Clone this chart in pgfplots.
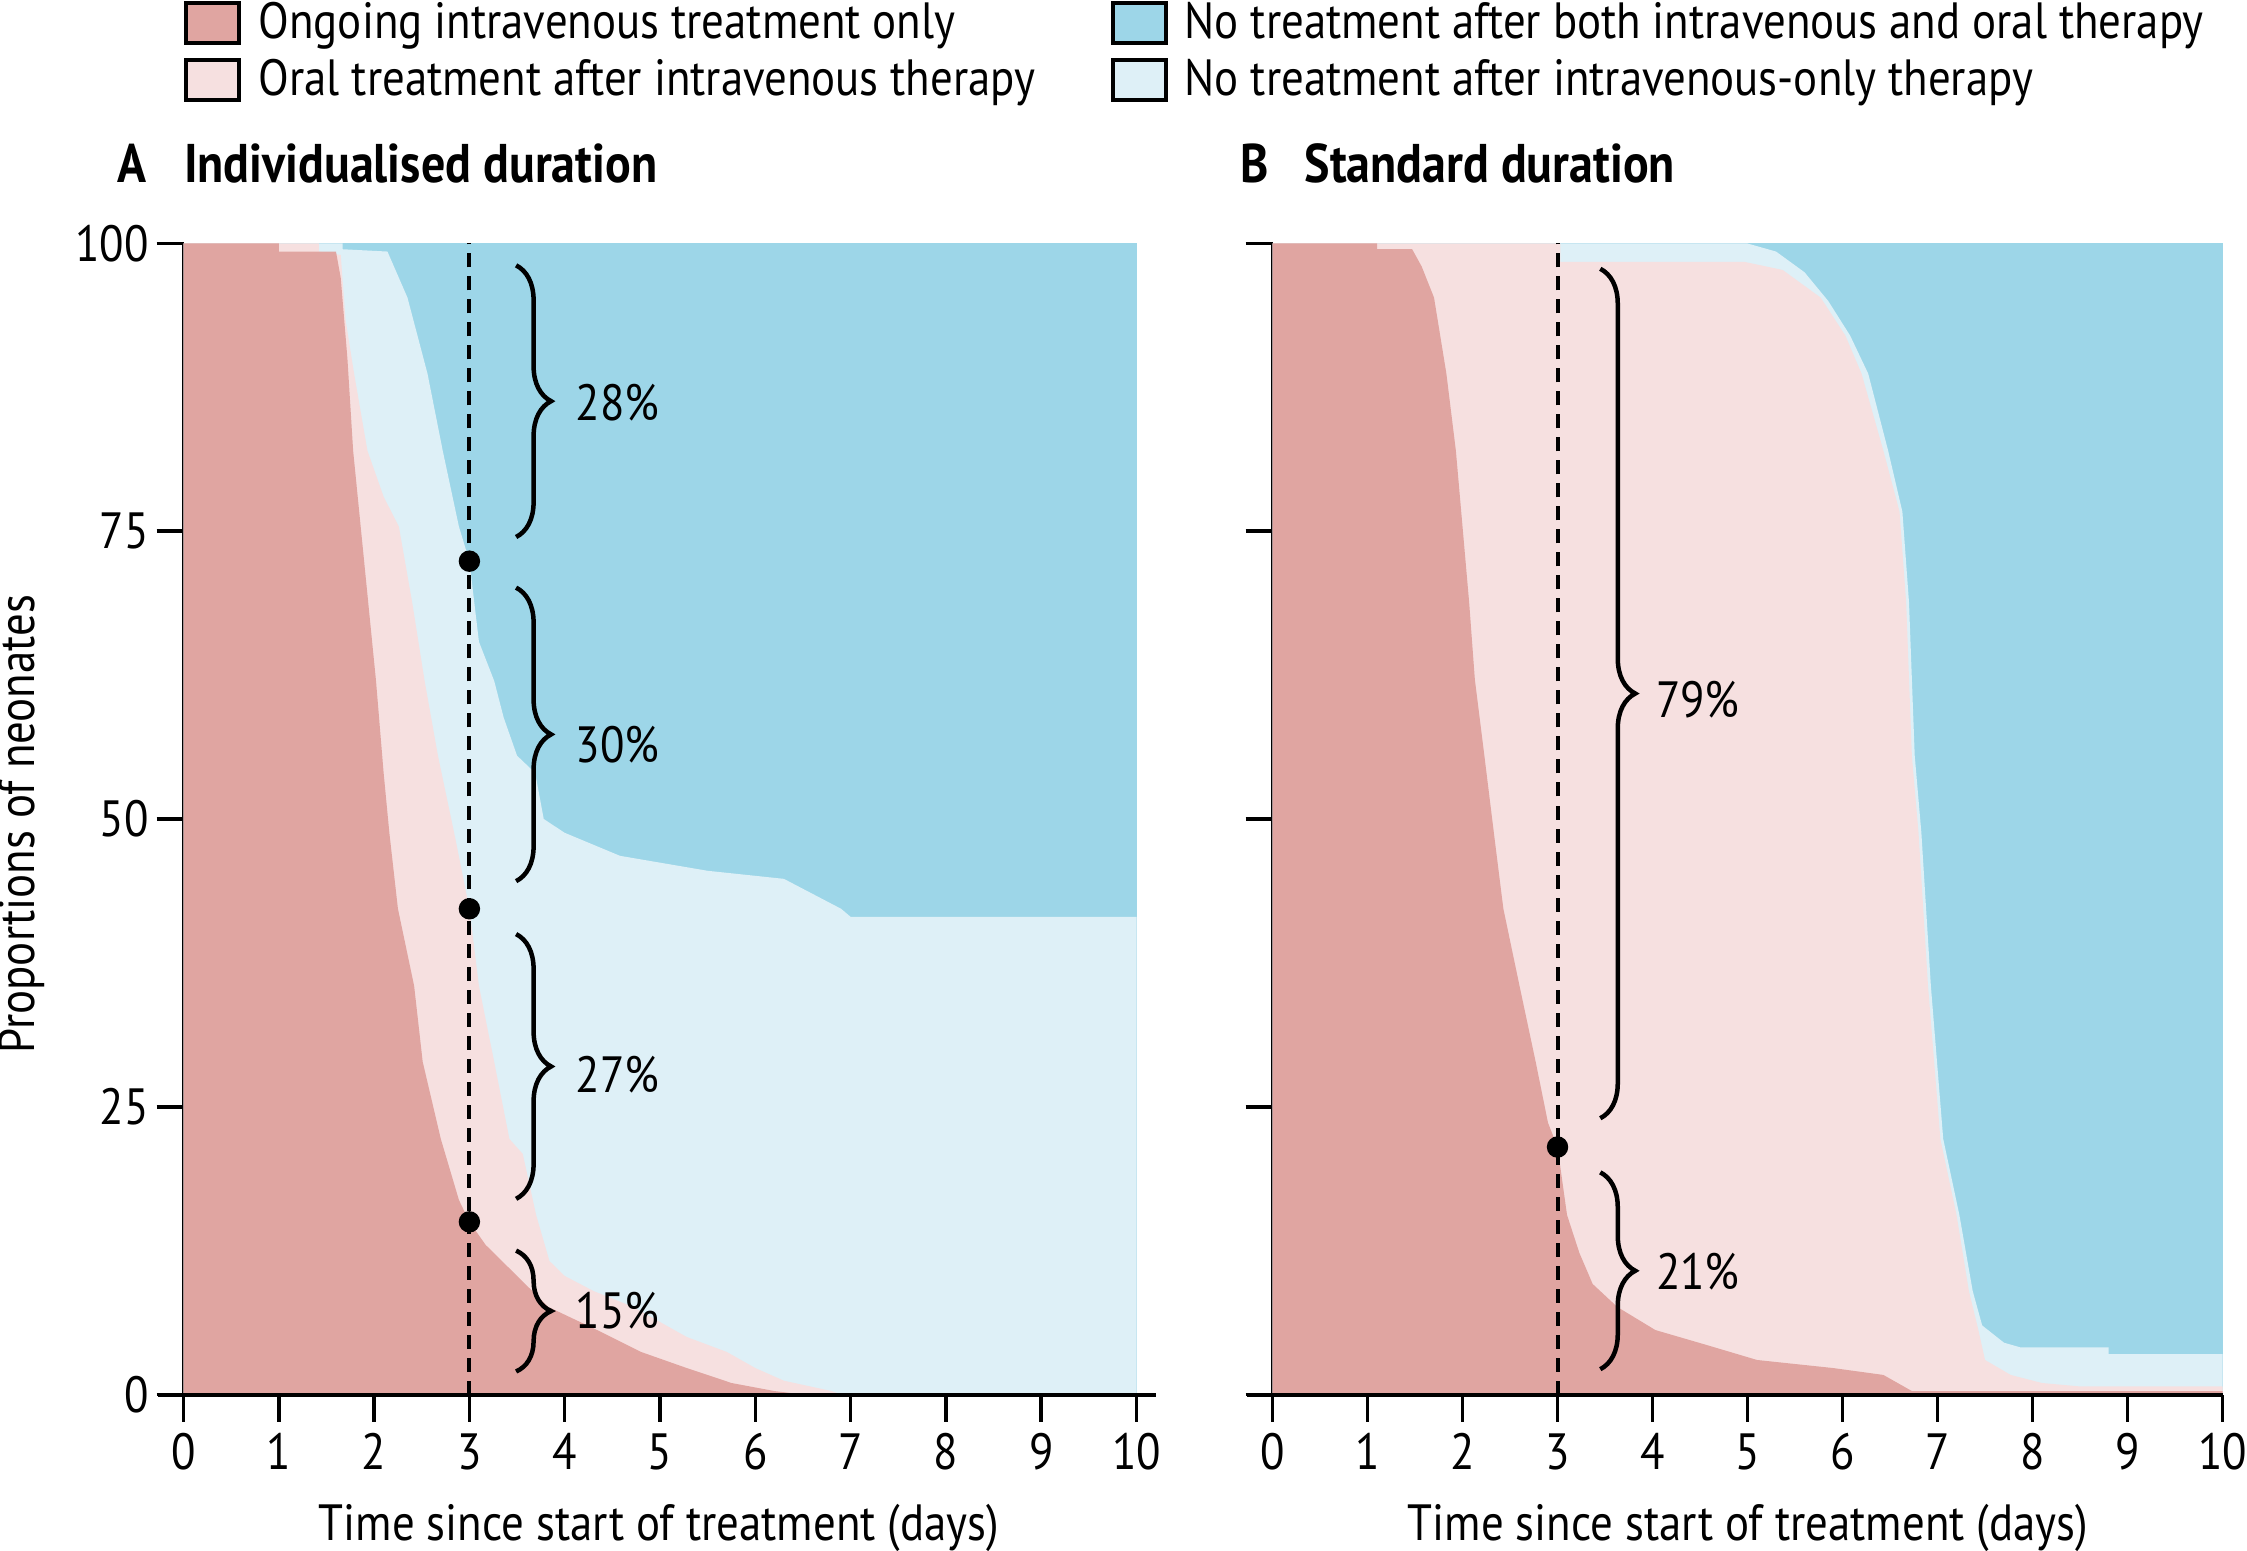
\documentclass[border=0pt]{standalone}
\usepackage{fontspec}
\setmainfont[FakeStretch=0.88]{PT Sans}
\usepackage{pgfplots}
\pgfplotsset{compat=1.18}
\usetikzlibrary{decorations.pathreplacing}
\definecolor{cRed}{HTML}{E0A5A1}
\definecolor{cPink}{HTML}{F6E0E0}
\definecolor{cLBlue}{HTML}{DEF0F7}
\definecolor{cDBlue}{HTML}{9DD6E8}
\newcommand{\nf}{\fontsize{14.5}{16}\selectfont}
\newcommand{\tf}{\fontsize{15.5}{18}\selectfont\bfseries}
\tikzset{brc/.style={decorate, decoration={brace, amplitude=3.5mm}, line width=0.45mm, black}}
\pgfplotsset{
  panel/.style={
    scale only axis, width=95.3mm, height=115.1mm,
    xmin=0, xmax=10, ymin=0, ymax=100,
    axis lines=left, axis line style={-, line width=0.4mm, black},
    xtick={0,...,10}, ytick={0,25,50,75,100},
    tick align=outside, major tick length=2.7mm,
    every tick/.style={black, line width=0.35mm},
    tick label style={font=\nf},
    /pgf/number format/assume math mode=true,
    xticklabel style={anchor=center, yshift=-3.0mm},
    yticklabel style={anchor=east, inner sep=0pt, xshift=-0.7mm},
    clip=false, axis on top=false,
  },
}
\begin{document}
\begin{tikzpicture}
\useasboundingbox (0,0) rectangle (224.7mm,155mm);
% ---------- Panel A ----------
\begin{axis}[panel, at={(18.35mm,15.55mm)}, anchor=south west]
\addplot[fill=cDBlue, draw=none] coordinates {(0,100)(10,100)} \closedcycle;
\addplot[fill=cLBlue, draw=none] coordinates {
(0,100)(1.67,100)(1.67,99.5)(2.14,99.3)(2.35,95.3)(2.56,88.7)(2.72,82)(2.89,75.4)(3.0,72.4)
(3.1,65.4)(3.26,62)(3.36,58.8)(3.5,55.5)(3.69,54)(3.78,50)(4.0,48.8)(4.58,46.8)(5.5,45.5)
(6.3,44.8)(6.9,42.2)(7.0,41.5)(10,41.5)} \closedcycle;
\addplot[fill=cPink, draw=none] coordinates {
(0,100)(1.42,100)(1.42,99.3)(1.65,99)(1.70,93.4)(1.79,88.7)(1.93,82)(2.1,78)(2.26,75.4)
(2.4,68.8)(2.53,62)(2.67,55.5)(2.84,48.8)(3.0,42.2)(3.1,35.5)(3.26,28.9)(3.42,22.2)
(3.56,20.9)(3.70,15.6)(3.84,11.6)(4.0,10.3)(4.3,9)(4.72,7.6)(5.0,6.3)(5.28,5)(5.7,3.7)
(6.0,2.3)(6.3,1.2)(6.8,0.3)(6.9,0)(10,0)} \closedcycle;
\addplot[fill=cRed, draw=none] coordinates {
(0,100)(1.0,100)(1.0,99.3)(1.6,99.3)(1.65,97)(1.72,90)(1.78,82)(1.9,72)(2.02,62)(2.1,54)
(2.16,48.8)(2.25,42.2)(2.42,35.5)(2.51,28.9)(2.7,22.2)(2.89,16.9)(3.0,15)(3.17,13)
(3.5,10.3)(3.83,7.6)(4.34,5.6)(4.8,3.7)(5.28,2.3)(5.75,1)(6.2,0.3)(6.5,0)(10,0)} \closedcycle;
\addplot[black, line width=0.4mm, dash pattern=on 1.4mm off 0.9mm] coordinates {(3,0)(3,100)};
\addplot[only marks, mark=*, mark size=1.0mm, black] coordinates {(3,72.4)(3,42.2)(3,15)};
\draw[line width=0.4mm] (axis cs:-0.27,0) -- (axis cs:10.2,0);
\draw[brc] (axis cs:3.49,98.1) -- (axis cs:3.49,74.5);
\draw[brc] (axis cs:3.49,70.1) -- (axis cs:3.49,44.6);
\draw[brc] (axis cs:3.49,40.0) -- (axis cs:3.49,17.0);
\draw[brc] (axis cs:3.49,12.5) -- (axis cs:3.49,2.0);
\node[anchor=west, inner sep=0pt, font=\nf] at (axis cs:4.11,86.2) {28\%};
\node[anchor=west, inner sep=0pt, font=\nf] at (axis cs:4.11,56.5) {30\%};
\node[anchor=west, inner sep=0pt, font=\nf] at (axis cs:4.11,27.8) {27\%};
\node[anchor=west, inner sep=0pt, font=\nf] at (axis cs:4.11,7.3) {15\%};
\end{axis}
% ---------- Panel B ----------
\begin{axis}[panel, at={(127.25mm,15.55mm)}, anchor=south west, width=95.0mm, yticklabels={}]
\addplot[fill=cDBlue, draw=none] coordinates {(0,100)(10,100)} \closedcycle;
\addplot[fill=cLBlue, draw=none] coordinates {
(0,100)(5.0,100)(5.3,99.3)(5.6,97.5)(5.85,95)(6.08,92)(6.27,88.7)(6.48,82)(6.63,76.7)
(6.7,68.8)(6.76,55.5)(6.83,48.8)(6.93,35.5)(7.06,22.2)(7.23,15.6)(7.37,9)(7.47,6)
(7.7,4.5)(7.87,4.1)(8.8,4.1)(8.8,3.5)(10,3.5)} \closedcycle;
\addplot[fill=cPink, draw=none] coordinates {
(0,100)(3.03,100)(3.03,98.4)(4.97,98.4)(5.37,97.7)(5.77,95.3)(6.03,92)(6.2,88.7)(6.43,82)
(6.6,76.7)(6.67,68.8)(6.73,55.5)(6.8,48.8)(6.9,35.5)(7.03,22.2)(7.2,15.6)(7.33,9)
(7.43,5.6)(7.5,3)(7.77,1.7)(8.1,1)(8.5,0.7)(10,0.7)} \closedcycle;
\addplot[fill=cRed, draw=none] coordinates {
(0,100)(1.1,100)(1.1,99.5)(1.47,99.5)(1.57,98)(1.7,95.3)(1.83,88.7)(1.93,82)(2.0,75.4)
(2.07,68.8)(2.13,62.1)(2.23,55.5)(2.33,48.8)(2.43,42.2)(2.6,35.5)(2.77,28.9)(2.9,23.6)
(3.0,21.5)(3.1,15.6)(3.23,12.3)(3.37,9.6)(3.63,7.6)(4.03,5.6)(4.57,4.3)(5.1,3)(5.9,2.3)
(6.43,1.7)(6.73,0.3)(10,0.3)} \closedcycle;
\addplot[black, line width=0.4mm, dash pattern=on 1.4mm off 0.9mm] coordinates {(3,0)(3,100)};
\addplot[only marks, mark=*, mark size=1.0mm, black] coordinates {(3,21.5)};
\draw[line width=0.4mm] (axis cs:-0.27,0) -- (axis cs:10,0);
\draw[brc] (axis cs:3.45,97.8) -- (axis cs:3.45,24.0);
\draw[brc] (axis cs:3.45,19.3) -- (axis cs:3.45,2.2);
\node[anchor=west, inner sep=0pt, font=\nf] at (axis cs:4.03,60.4) {79\%};
\node[anchor=west, inner sep=0pt, font=\nf] at (axis cs:4.03,10.7) {21\%};
\end{axis}
% ---------- labels ----------
\node[font=\nf, rotate=90] at (2.15mm,72.6mm) {Proportions of neonates};
\node[font=\nf] at (65.9mm,2.2mm) {Time since start of treatment (days)};
\node[font=\nf] at (174.8mm,2.2mm) {Time since start of treatment (days)};
\node[font=\tf, anchor=base] at (13.2mm,136.7mm) {A};
\node[font=\tf, anchor=base west, inner sep=0pt] at (18.35mm,136.7mm) {Individualised duration};
\node[font=\tf, anchor=base] at (125.5mm,136.7mm) {B};
\node[font=\tf, anchor=base west, inner sep=0pt] at (130.4mm,136.7mm) {Standard duration};
% ---------- legend ----------
\draw[fill=cRed, line width=0.4mm] (18.6mm,150.7mm) rectangle (23.9mm,154.7mm);
\draw[fill=cPink, line width=0.4mm] (18.6mm,145.0mm) rectangle (23.9mm,149.0mm);
\draw[fill=cDBlue, line width=0.4mm] (111.3mm,150.7mm) rectangle (116.6mm,154.7mm);
\draw[fill=cLBlue, line width=0.4mm] (111.3mm,145.0mm) rectangle (116.6mm,149.0mm);
\node[font=\nf, anchor=base west, inner sep=0pt] at (25.8mm,151.1mm) {Ongoing intravenous treatment only};
\node[font=\nf, anchor=base west, inner sep=0pt] at (25.8mm,145.4mm) {Oral treatment after intravenous therapy};
\node[font=\nf, anchor=base west, inner sep=0pt] at (118.4mm,151.1mm) {No treatment after both intravenous and oral therapy};
\node[font=\nf, anchor=base west, inner sep=0pt] at (118.4mm,145.4mm) {No treatment after intravenous-only therapy};
\end{tikzpicture}
\end{document}
